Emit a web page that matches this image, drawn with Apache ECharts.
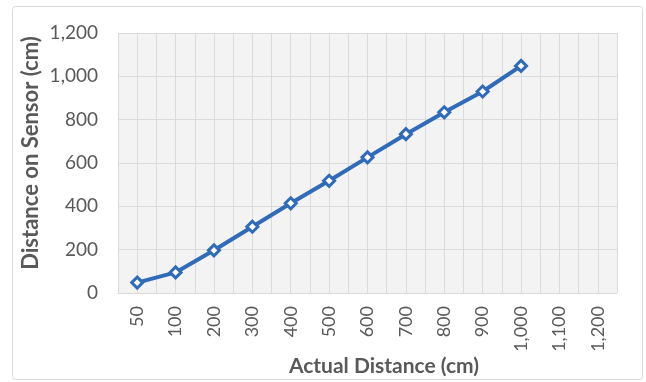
<!DOCTYPE html>
<html>
<head>
<meta charset="utf-8">
<script src="https://cdn.jsdelivr.net/npm/echarts@6/dist/echarts.min.js"></script>
<style>
  html, body { margin: 0; padding: 0; background: #fff; }
  #chart { width: 646px; height: 382px; }
</style>
</head>
<body>
<div id="chart"></div>
<script>
// Actual distance (category labels) and the distance reported by the sensor
const actualDistance = ['50', '100', '200', '300', '400', '500', '600', '700', '800', '900', '1,000', '1,100', '1,200'];
const sensorDistance = [48, 95, 197, 306, 414, 518, 626, 733, 834, 930, 1048];
const yTicks = { min: 0, max: 1200, interval: 200 };

const FONT = 'Lato, "Open Sans", sans-serif';
const labelColor = '#595959';
const gridColor = '#dadada';

const chart = echarts.init(document.getElementById('chart'), null, { renderer: 'canvas' });

chart.setOption({
  animation: false,
  backgroundColor: '#ffffff',
  grid: {
    left: 118, right: 29, top: 33, bottom: 89,
    show: true, backgroundColor: '#f3f3f3', borderWidth: 0
  },
  xAxis: [
    {
      type: 'category',
      data: actualDistance,
      boundaryGap: true,
      axisLine: { show: true, lineStyle: { color: gridColor, width: 1 } },
      axisTick: { show: false },
      splitLine: { show: false },
      axisLabel: {
        rotate: 90, interval: 0, margin: 13,
        color: labelColor, fontFamily: FONT, fontSize: 18
      }
    },
    {
      // half-category gridlines (boundaries and centres)
      type: 'value',
      min: 0, max: actualDistance.length * 2, interval: 1,
      position: 'top',
      axisLine: { show: false }, axisTick: { show: false }, axisLabel: { show: false },
      splitLine: { show: true, lineStyle: { color: gridColor, width: 1 } }
    }
  ],
  yAxis: {
    type: 'value',
    min: yTicks.min, max: yTicks.max, interval: yTicks.interval,
    axisLine: { show: false },
    axisTick: { show: false },
    splitLine: { show: true, lineStyle: { color: gridColor, width: 1 } },
    axisLabel: {
      margin: 20, color: labelColor, fontFamily: FONT, fontSize: 19,
      formatter: v => v.toLocaleString('en-US')
    }
  },
  graphic: [
    {
      type: 'text', x: 31, y: 153, rotation: Math.PI / 2,
      style: {
        text: 'Distance on Sensor (cm)', fill: labelColor,
        font: 'bold 22px ' + FONT, align: 'center', verticalAlign: 'middle'
      }
    },
    {
      type: 'text', x: 384, y: 366,
      style: {
        text: 'Actual Distance (cm)', fill: labelColor,
        font: 'bold 21px ' + FONT, align: 'center', verticalAlign: 'middle'
      }
    },
    {
      type: 'rect', shape: { x: 12.5, y: 6.5, width: 630, height: 373, r: 3 },
      style: { fill: 'none', stroke: '#d9d9d9', lineWidth: 1 }, silent: true
    }
  ],
  series: [{
    type: 'line',
    xAxisIndex: 0,
    data: sensorDistance,
    symbol: 'diamond',
    symbolSize: 11,
    lineStyle: { color: '#2f6bb8', width: 4 },
    itemStyle: { color: '#ffffff', borderColor: '#2f6bb8', borderWidth: 3 }
  }]
});
</script>
</body>
</html>
